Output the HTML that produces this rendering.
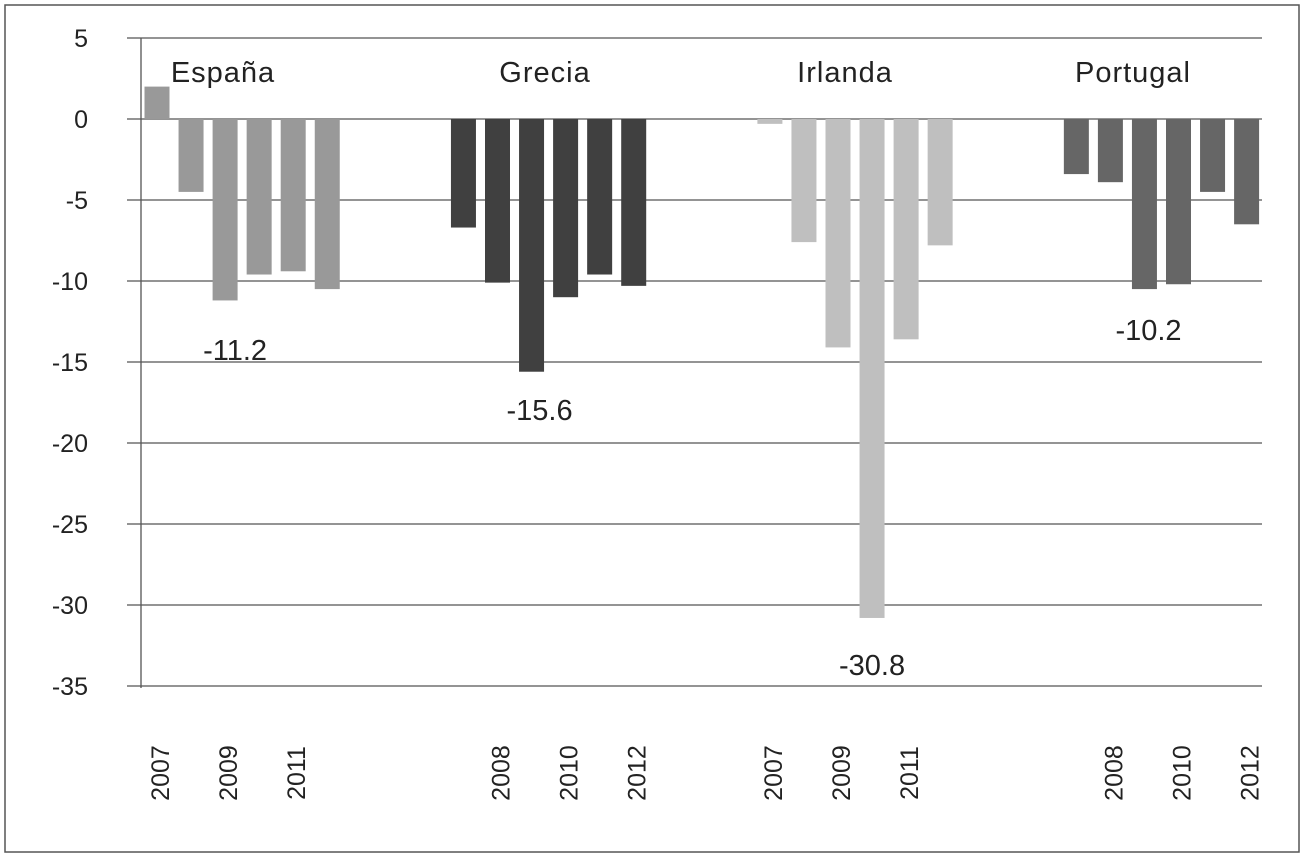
<!DOCTYPE html>
<html><head><meta charset="utf-8"><style>
body{margin:0;background:#fff;}
svg{display:block;font-family:"Liberation Sans",sans-serif;}
</style></head><body>
<svg id="chart" width="1304" height="857">
<rect x="5" y="5" width="1294" height="847" fill="none" stroke="#555" stroke-width="1.5"/>
<g id="grid"></g><g id="bars"></g><g id="labels"></g>
</svg>
<script>
const countries=["España","Grecia","Irlanda","Portugal"];
const colors=["#999999","#404040","#bfbfbf","#666666"];
const years=["2007","2008","2009","2010","2011","2012"];
const espana=[2.0,-4.5,-11.2,-9.6,-9.4,-10.5];
const grecia=[-6.7,-10.1,-15.6,-11.0,-9.6,-10.3];
const irlanda=[-0.3,-7.6,-14.1,-30.8,-13.6,-7.8];
const portugal=[-3.4,-3.9,-10.5,-10.2,-4.5,-6.5];
const yTicks=[5,0,-5,-10,-15,-20,-25,-30,-35];
const calloutIdx=[2,2,3,3];
const shownYears=[[0,2,4],[1,3,5],[0,2,4],[1,3,5]];
const series=[espana,grecia,irlanda,portugal];
const titleX=[223,545,845,1133];
const calloutDx=[10,8,0,-30];
const calloutY=[360,420,675,340];
const NS="http://www.w3.org/2000/svg";
function y(v){return 119-v*16.2;}
function x(slot){return 157+34.05*slot;}
function mk(tag,attrs,parent,txt){const e=document.createElementNS(NS,tag);for(const k in attrs)e.setAttribute(k,attrs[k]);if(txt!==undefined)e.textContent=txt;parent.appendChild(e);return e;}
const grid=document.getElementById('grid'),bars=document.getElementById('bars'),labels=document.getElementById('labels');
yTicks.forEach(t=>{
 const l=mk('line',{x1:127,x2:1262,y1:y(t),y2:y(t),stroke:'#555','stroke-width':1.3},grid);
 
 
 const tx=mk('text',{x:88,y:y(t)+9,'text-anchor':'end','font-size':25,fill:'#222'},grid,String(t));
 
 
});
const ax=mk('line',{x1:141,x2:141,y1:38,y2:688,stroke:'#555','stroke-width':1.3},grid);


const groupStart=[0,9,18,27];
series.forEach((s,g)=>{
 s.forEach((v,i)=>{
  const cx=x(groupStart[g]+i);
  const r=mk('rect',{x:cx-12.5,width:25,y:Math.min(y(v),y(0)),height:Math.abs(y(v)-y(0)),fill:colors[g]},bars);
  
  
 });
 const ct=mk('text',{x:titleX[g],y:82,'text-anchor':'middle','font-size':29,fill:'#222','letter-spacing':1},labels,countries[g]);
 
 
 const ci=calloutIdx[g];
 const cv=s[ci];
 const cl=mk('text',{x:x(groupStart[g]+ci)+calloutDx[g],y:calloutY[g],'text-anchor':'middle','font-size':29,fill:'#222'},labels,cv.toFixed(1));
 
 
 shownYears[g].forEach(i=>{
  const px=x(groupStart[g]+i)+3;
  const yt=mk('text',{x:0,y:0,transform:`translate(${px+9},773) rotate(-90)`,'text-anchor':'middle','font-size':25,fill:'#222'},labels,years[i]);
  
  
 });
});
</script>
</body></html>
